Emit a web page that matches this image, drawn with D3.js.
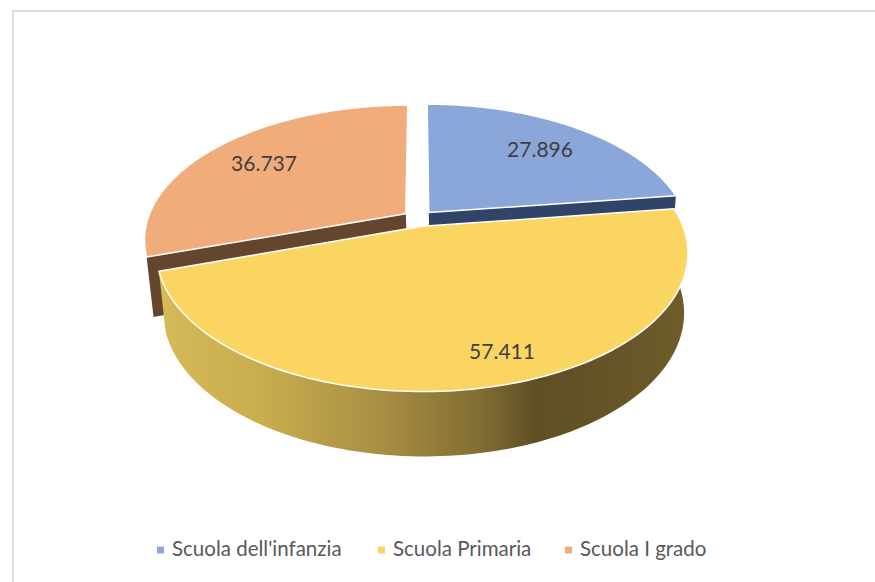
<!DOCTYPE html>
<html><head><meta charset="utf-8">
<script src="https://cdnjs.cloudflare.com/ajax/libs/d3/7.8.5/d3.min.js"></script>
<style>html,body{margin:0;padding:0;background:#fff}svg{display:block}text{font-family:Lato,"Open Sans",sans-serif}</style>
</head><body><svg id="c" width="875" height="582"></svg>
<script>
const categories = ["Scuola dell'infanzia","Scuola Primaria","Scuola I grado"];
const values = [27896,57411,36737];
const valueLabels = ["27.896","57.411","36.737"];
const topColors = ["#8ba6d9","#fbd562","#f1ac7c"];
const sideColors = ["#2f4468","#6b5a28","#64462f"];
const labelPos = [[540,149],[502,351],[264,163]];
const legendX = [[157,172],[378,393],[565,580]];

const svg = d3.select("#c");
// frame
svg.append("path").attr("d","M876,11H13V583").attr("fill","none").attr("stroke","#dcdcdc").attr("stroke-width",2);

// perspective model
const Cx=418.5, Cy=218.5, ax=258, ay=130.8, persp=0.188, explode=0.061;
const project=(X,Y)=>{const w=1+persp*Y;return [Cx+ax*X/w, Cy-ay*Y/w];};
const lower=([x,y])=>[Cx+1.5+0.98*(x-Cx), Cy+58.5+1.037*(y-Cy)];

const pie=d3.pie().sort(null).value(d=>d).startAngle(0).endAngle(2*Math.PI);
const arcs=pie(values);
const line=d3.line();
const slices=arcs.map((a,i)=>{
  const mid=(a.startAngle+a.endAngle)/2;
  const ox=explode*Math.sin(mid), oy=explode*Math.cos(mid);
  const at=t=>project(ox+Math.sin(t),oy+Math.cos(t));
  const n=120;
  const rim=d3.range(n+1).map(k=>at(a.startAngle+(a.endAngle-a.startAngle)*k/n));
  return {i,a,apex:project(ox,oy),rim};
});

const defs=svg.append("defs");
const grad=defs.append("linearGradient").attr("id","wall").attr("gradientUnits","userSpaceOnUse")
  .attr("x1",160).attr("x2",690).attr("y1",0).attr("y2",0);
[[0,"#d6ba58"],[0.2,"#c8ac4e"],[0.42,"#a78e43"],[0.6,"#836e33"],[0.71,"#5f4f24"],[0.85,"#655428"],[1,"#6f5d2a"]]
  .forEach(([o,c])=>grad.append("stop").attr("offset",o).attr("stop-color",c));

// straight side walls of the back slices
[slices[2]].forEach(s=>{
  const e=s.rim[0];
  svg.append("path").attr("d",line([s.apex,e,lower(e),lower(s.apex)])+"Z").attr("fill",sideColors[2]);
});
{ const s=slices[0], e=s.rim[s.rim.length-1];
  svg.append("path").attr("d",line([s.apex,e,lower(e),lower(s.apex)])+"Z").attr("fill",sideColors[0]);
}
// outer wall of the front slice
{ const s=slices[1];
  svg.append("path").attr("d",line(s.rim.concat(s.rim.map(lower).reverse()))+"Z").attr("fill","url(#wall)");
}
// top faces, back first
[0,2,1].forEach(i=>{
  const s=slices[i];
  svg.append("path").attr("d",line([s.apex].concat(s.rim))+"Z")
    .attr("fill",topColors[i]).attr("stroke","#fff").attr("stroke-width",1.5).attr("stroke-linejoin","round");
});
// value labels
valueLabels.forEach((t,i)=>{
  svg.append("text").attr("x",labelPos[i][0]).attr("y",labelPos[i][1]).attr("dy","0.36em")
    .attr("text-anchor","middle").attr("font-size",21).attr("fill","#404040").text(t);
});
// legend
categories.forEach((t,i)=>{
  svg.append("rect").attr("x",legendX[i][0]).attr("y",546.5).attr("width",7).attr("height",7).attr("fill",topColors[i]);
  svg.append("text").attr("x",legendX[i][1]).attr("y",556).attr("font-size",20.5).attr("fill","#595959").text(t);
});
</script></body></html>
